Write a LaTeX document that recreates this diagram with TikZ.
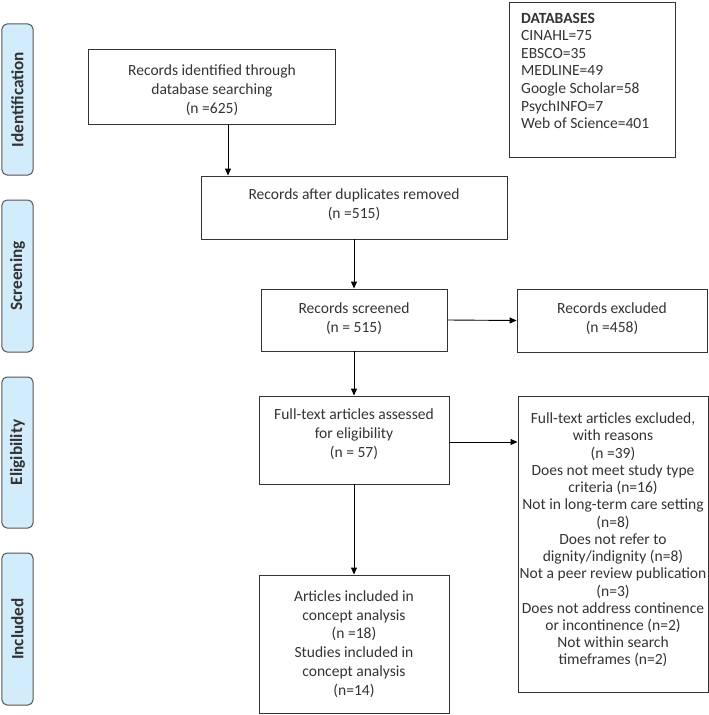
\documentclass[tikz,border=0pt]{standalone}
\usepackage{fontspec}
\setmainfont{Carlito}
\usetikzlibrary{arrows.meta}
\definecolor{sidefill}{HTML}{D3ECFB}
\definecolor{sidedraw}{HTML}{555555}
\definecolor{txtcol}{HTML}{333333}
\tikzset{
  box/.style={draw=black!80, line width=0.9bp, rectangle, inner sep=0pt},
  txt/.style={inner sep=0pt, align=center, text=txtcol, font=\fontsize{15.6}{19}\selectfont},
  side/.style={draw=sidedraw, fill=sidefill, line width=1bp, rounded corners=5bp, inner sep=0pt, minimum width=31bp},
  sidetxt/.style={inner sep=0pt, rotate=90, text=txtcol, font=\fontsize{17.3}{19}\selectfont\bfseries},
  arr/.style={draw=black, line width=0.9bp, -{Triangle[length=7bp,width=6bp]}}
}
\begin{document}
\begin{tikzpicture}[x=1bp,y=-1bp]
\useasboundingbox (0,0) rectangle (709,715);

% side labels
\node[side, minimum height=151bp] (s1) at (17.5,99.5) {};
\node[sidetxt] (s1t) at (s1.center) {Identification};
\node[side, minimum height=152bp] (s2) at (17.5,276) {};
\node[sidetxt] (s2t) at (s2.center) {Screening};
\node[side, minimum height=151bp] (s3) at (17.5,452.5) {};
\node[sidetxt] (s3t) at (s3.center) {Eligibility};
\node[side, minimum height=152bp] (s4) at (17.5,629) {};
\node[sidetxt] (s4t) at (s4.center) {Included};

% boxes
\node[box, minimum width=247bp, minimum height=75bp] (b1) at (211.5,86.5) {};
\node[txt] (t1) at (212,90) {Records identified through\\database searching\\(n =625)};

\node[box, minimum width=306bp, minimum height=63bp] (b2) at (354,207.5) {};
\node[txt] (t2) at (354,205) {Records after duplicates removed\\(n =515)};

\node[box, minimum width=186bp, minimum height=62bp] (b3) at (354,320) {};
\node[txt] (t3) at (354,319) {Records screened\\(n = 515)};

\node[box, minimum width=190bp, minimum height=63bp] (b4) at (612,320.5) {};
\node[txt] (t4) at (612,319) {Records excluded\\(n =458)};

\node[box, minimum width=166bp, minimum height=155bp] (db) at (592,79.5) {};
\node[txt, anchor=north west, align=left, font=\fontsize{15.6}{17.6}\selectfont] (dbt) at (521,13)
  {\textbf{DATABASES}\\CINAHL=75\\EBSCO=35\\MEDLINE=49\\Google Scholar=58\\PsychINFO=7\\Web of Science=401};

\node[box, minimum width=190bp, minimum height=88bp] (b5) at (354,440) {};
\node[txt] (t5) at (354,434) {Full-text articles assessed\\for eligibility\\(n = 57)};

\node[box, minimum width=190bp, minimum height=296bp] (b6) at (613,544) {};
\node[txt, font=\fontsize{15.6}{17.3}\selectfont] (t6) at (613,540) {Full-text articles excluded,\\with reasons\\(n =39)\\Does not meet study type\\criteria (n=16)\\Not in long-term care setting\\(n=8)\\Does not refer to\\dignity/indignity (n=8)\\Not a peer review publication\\(n=3)\\Does not address continence\\or incontinence (n=2)\\Not within search\\timeframes (n=2)};

\node[box, minimum width=190bp, minimum height=138bp] (b7) at (354,644) {};
\node[txt, font=\fontsize{15.6}{18.8}\selectfont] (t7) at (354,644) {Articles included in\\concept analysis\\(n =18)\\Studies included in\\concept analysis\\(n=14)};

% connectors
\coordinate (c1) at (228,0);
\draw[arr] (b1.south -| c1) -- (b2.north -| c1);
\draw[arr] (b2.south) -- (b3.north);
\draw[arr] (b3.east) -- (b4.west);
\draw[arr] (b3.south) -- (b5.north);
\coordinate (c5) at (0,442);
\draw[arr] (b5.east |- c5) -- (b6.west |- c5);
\draw[arr] (b5.south) -- (b7.north);
\end{tikzpicture}
\end{document}
